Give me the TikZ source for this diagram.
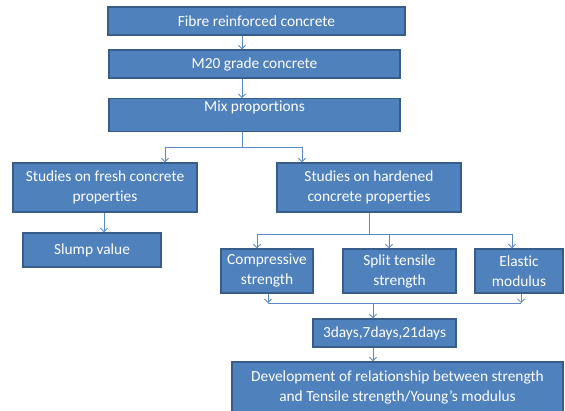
\documentclass[tikz,border=0pt]{standalone}
\usepackage{fontspec}
\setmainfont{Carlito}[Ligatures=NoCommon]
\usetikzlibrary{arrows.meta,calc}
\definecolor{boxfill}{HTML}{4F81BD}
\definecolor{boxline}{HTML}{385D8A}
\definecolor{connc}{HTML}{5A8AC6}
\tikzset{
  box/.style={draw=boxline, line width=1.4pt, fill=boxfill, text=white, align=center,
    font=\fontsize{15.4}{20}\selectfont, inner sep=2pt},
  conn/.style={draw=connc, line width=0.8pt, -{Straight Barb[length=3.5pt,width=7pt]}},
  plain/.style={draw=connc, line width=0.8pt}
}
\begin{document}
\begin{tikzpicture}[x=1pt,y=-1pt]
\useasboundingbox[fill=white] (0,0) rectangle (565,410);
% boxes
\node[box, minimum width=297pt, minimum height=28pt] (b1) at (256.5,21) {Fibre reinforced concrete};
\node[box, minimum width=291pt, minimum height=28pt] (b2) at (254.5,64) {M20 grade concrete};
\node[box, minimum width=291pt, text height=11pt, text depth=18pt, anchor=north] (b3) at (254.5,98) {Mix proportions};
\node[box, minimum width=184pt, minimum height=49pt] (fresh) at (105,187.5) {Studies on fresh concrete\\properties};
\node[box, minimum width=184pt, minimum height=49pt] (hard) at (369,187.5) {Studies on hardened\\concrete properties};
\node[box, minimum width=138pt, minimum height=34pt] (slump) at (92,250) {Slump value};
\node[box, minimum width=92pt, minimum height=44pt] (comp) at (267,271) {Compressive\\strength};
\node[box, minimum width=113pt, minimum height=44pt] (split) at (399.5,271) {Split tensile\\strength};
\node[box, minimum width=88pt, minimum height=44pt] (elas) at (519,271) {Elastic\\modulus};
\node[box, minimum width=143pt, minimum height=28pt] (days) at (384.5,333) {3days,7days,21days};
\node[box, minimum width=331pt, minimum height=50pt] (dev) at (397.5,387) {Development of relationship between strength\\and Tensile strength/Young’s modulus};
% helper coordinates
\coordinate (ax) at (242,0);
\coordinate (j1) at (242,147);
\coordinate (fx) at (165,0);
\coordinate (hx) at (302,0);
\coordinate (j2) at (369,234);
\coordinate (cx) at (257,0);
\coordinate (sx) at (389,0);
\coordinate (ex) at (512,0);
\coordinate (j3l) at (268,303);
\coordinate (j3r) at (521,303);
\coordinate (dx) at (373,0);
% connectors
\draw[conn] (b1.south -| ax) -- (b2.north -| ax);
\draw[conn] (b2.south -| ax) -- (b3.north -| ax);
\draw[plain] (b3.south -| ax) -- (j1);
\draw[conn] (j1) -| (fresh.north -| fx);
\draw[conn] (j1) -| (hard.north -| hx);
\draw[conn] (fresh.south -| 104,0) -- (slump.north -| 104,0);
\draw[plain] (hard.south) -- (j2);
\draw[conn] (j2) -| (comp.north -| cx);
\draw[conn] (j2) -| (elas.north -| ex);
\draw[conn] (j2 -| sx) -- (split.north -| sx);
\draw[conn] (comp.south -| j3l) -- (j3l);
\draw[conn] (elas.south -| j3r) -- (j3r);
\draw[plain] (j3l) -- (j3r);
\draw[conn] (j3l -| dx) -- (days.north -| dx);
\draw[conn] (days.south -| dx) -- (dev.north -| dx);
\end{tikzpicture}
\end{document}
